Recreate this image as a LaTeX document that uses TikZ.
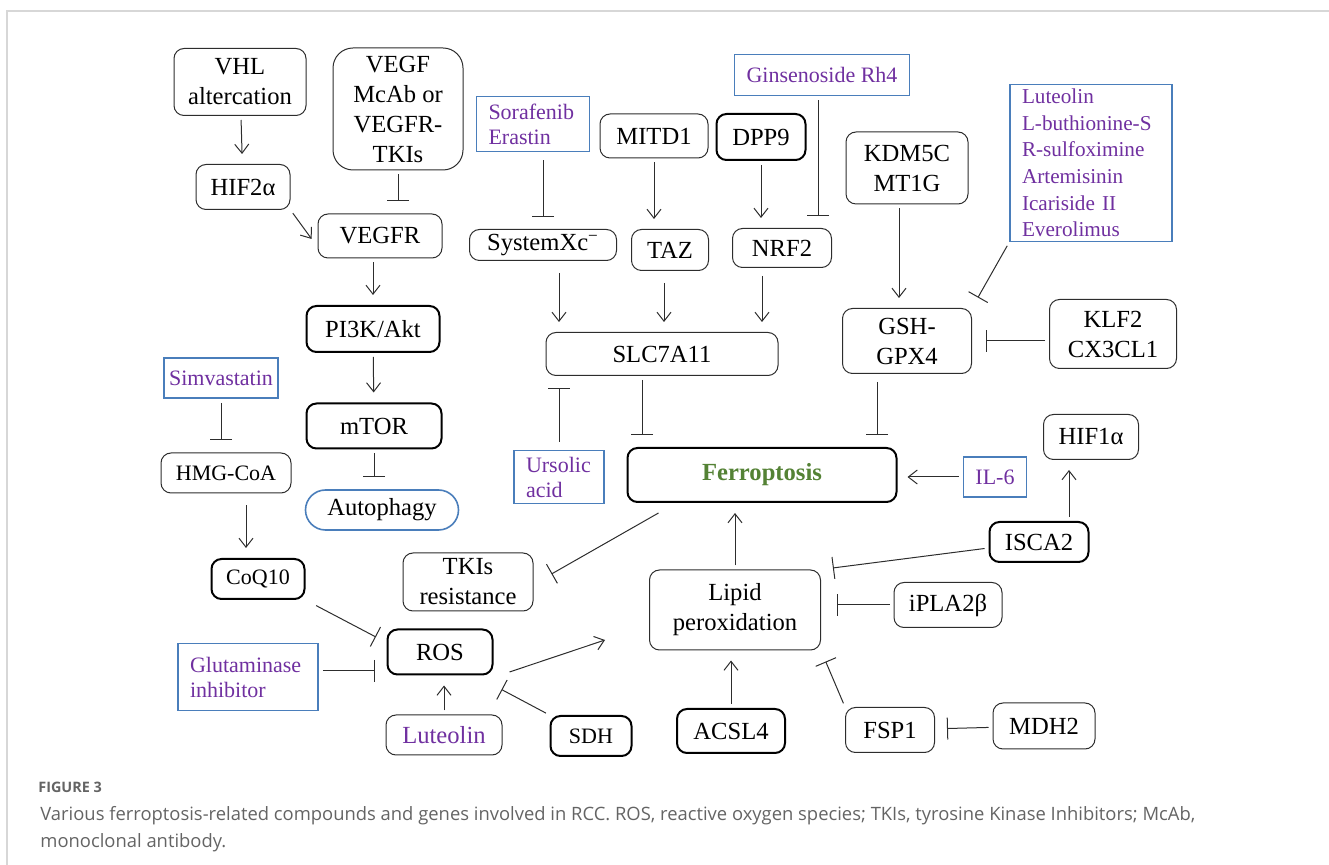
\documentclass[tikz,border=0pt]{standalone}
\usepackage{fontspec}
\setmainfont{Liberation Serif}
\newfontfamily\capfont{Open Sans}
\usepackage{xcolor}
\usepackage{tikz}
\usetikzlibrary{arrows.meta, positioning, calc}
\definecolor{mydark}{RGB}{45,45,45}
\definecolor{myblue}{RGB}{74,126,187}
\definecolor{mypurple}{RGB}{112,48,160}
\definecolor{mygreen}{RGB}{84,130,53}
\definecolor{mygray}{RGB}{100,100,100}
\definecolor{framegray}{RGB}{215,215,215}
\newcommand{\genefont}{\fontsize{12.3}{15}\selectfont}
\newcommand{\smallgenefont}{\fontsize{11}{13}\selectfont}
\newcommand{\drugfont}{\fontsize{11}{12.5}\selectfont}
\tikzset{
  gene/.style={rectangle, draw=mydark, fill=white, rounded corners=5pt,
    line width=0.5pt, inner sep=1pt, align=center, font=\genefont},
  boldgene/.style={gene, draw=black, line width=1pt},
  drug/.style={rectangle, draw=myblue, fill=white, line width=0.8pt,
    text=mypurple, inner sep=1pt, align=center, font=\drugfont},
  drugleft/.style={drug, align=left, inner xsep=6pt},
  sz/.style 2 args={minimum width=#1pt, minimum height=#2pt},
  act/.style={-{Straight Barb[length=4.5pt,width=7pt]}, line width=0.5pt,
    color=mydark, shorten <=2pt, shorten >=5pt},
  inh/.style={-{Bar[width=11pt]}, line width=0.5pt, color=mydark,
    shorten <=2pt, shorten >=6pt}
}

\begin{document}
\begin{tikzpicture}[x=0.5pt, y=-0.5pt]
  \useasboundingbox (0,0) rectangle (1329,865);
  % Page frame (top and left rules)
  \draw[framegray, line width=0.7pt] (7,865) -- (7,11) -- (1329,11);

  % VEGF axis (left column)
  \node[gene, sz={66}{33.5}] (vhl) at (240,82) {VHL\\altercation};
  \node[gene, rounded corners=10pt, sz={65}{61}] (vegf) at (398,109) {VEGF\\McAb or\\VEGFR-\\TKIs};
  \node[gene, sz={47}{22.5}] (hif2) at (243,187) {HIF2α};
  \node[gene, sz={62}{22}] (vegfr) at (380,236) {VEGFR};
  \node[boldgene, sz={66.5}{23}] (pi3k) at (373,329) {PI3K/Akt};
  \node[boldgene, sz={67.5}{22.5}] (mtor) at (374,426) {mTOR};
  \node[drug, text=black, font=\genefont, rounded corners=10pt, sz={76.5}{20}] (auto) at (382,510) {Autophagy};

  % Mevalonate branch
  \node[drug, sz={57}{20}] (simva) at (221,378) {Simvastatin};
  \node[gene, font=\smallgenefont, sz={65}{20}] (hmg) at (226,473) {HMG-CoA};
  \node[boldgene, font=\smallgenefont, sz={46.5}{20}] (coq) at (258,579) {CoQ10};

  % ROS cluster (bottom left)
  \node[boldgene, sz={52.5}{22.5}] (ros) at (440,652) {ROS};
  \node[drugleft, text width=58pt, sz={70}{33.5}] (glut) at (248,677) {Glutaminase\\inhibitor};
  \node[gene, text=mypurple, sz={58}{20}] (lut2) at (444,735) {Luteolin};
  \node[boldgene, font=\smallgenefont, sz={40.5}{20}] (sdh) at (591,736) {SDH};
  \node[gene, sz={65}{29}] (tkis) at (468,582) {TKIs\\resistance};

  % SLC7A11 axis (top middle)
  \node[drugleft, text width=44.5pt, sz={56.5}{27.5}] (sora) at (533,124) {Sorafenib\\Erastin};
  \node[gene, sz={54}{22}] (mitd1) at (654,136) {MITD1};
  \node[boldgene, sz={44.5}{23}] (dpp9) at (761,137) {DPP9};
  \node[drug, sz={87.5}{20.5}] (gins) at (822,75) {Ginsenoside Rh4};
  \node[gene, sz={73.5}{15.5}] (sxc) at (543,245) {SystemXc\textsuperscript{−}};
  \node[gene, sz={38.5}{20.5}] (taz) at (670,250) {TAZ};
  \node[gene, sz={49.5}{19.5}] (nrf2) at (782,248) {NRF2};
  \node[gene, sz={116}{21.5}] (slc) at (662,354) {SLC7A11};
  \node[drugleft, text width=33pt, sz={45}{26.5}] (urs) at (559,477) {Ursolic\\acid};

  % GPX4 axis (top right)
  \node[gene, sz={61}{36}] (kdm) at (907,168) {KDM5C\\MT1G};
  \node[drugleft, text width=69pt, inner ysep=0pt, font=\fontsize{10.6}{13.3}\selectfont, sz={81}{78.5}] (lut1) at (1091,163)
    {Luteolin\\L-buthionine-S\\R-sulfoximine\\Artemisinin\\Icariside II\\Everolimus};
  \node[gene, sz={64.5}{32.5}] (gsh) at (907,341) {GSH-\\GPX4};
  \node[gene, sz={63.5}{34.5}] (klf) at (1113,334) {KLF2\\CX3CL1};

  % Ferroptosis and lipid peroxidation
  \node[boldgene, sz={134.5}{27}, text=mygreen, font=\genefont\bfseries] (ferro) at (762,475) {Ferroptosis};
  \node[drug, sz={31.5}{20}] (il6) at (995,477) {IL-6};
  \node[gene, sz={47.5}{22.5}] (hif1) at (1091,437) {HIF1α};
  \node[boldgene, sz={49.5}{20}] (isca) at (1039,542) {ISCA2};
  \node[gene, sz={85.5}{40}] (lipid) at (735,610) {Lipid\\peroxidation};
  \node[gene, sz={54}{22.5}] (ipla) at (948,605) {iPLA2β};
  \node[boldgene, sz={54}{22}] (acsl) at (731,731) {ACSL4};
  \node[gene, sz={44.5}{22.5}] (fsp1) at (890,730) {FSP1};
  \node[gene, sz={51}{23}] (mdh2) at (1044,726) {MDH2};

  % Connectors: VEGF axis
  \draw[act] (vhl) -- (hif2);
  \draw[inh] (vegf) -- (vegf |- vegfr.north);
  \draw[act] (hif2.south east) -- (vegfr.190);
  \draw[act] (vegfr.south -| pi3k) -- (pi3k);
  \draw[act] (pi3k) -- (mtor);
  \draw[inh] (mtor) -- (mtor |- auto.north);
  \draw[inh] (simva) -- (simva |- hmg.north);
  \draw[act, shorten <=6pt] ([xshift=10pt]hmg.south) -- ([xshift=10pt]hmg.south |- coq.north);

  % Connectors: ROS cluster
  \draw[inh, shorten <=6pt] (coq.south east) -- (ros.170);
  \draw[inh] ([yshift=3pt]glut.east) -- ([yshift=3pt]glut.east -| ros.west);
  \draw[act] (lut2) -- (lut2 |- ros.south);
  \draw[inh, shorten >=0pt] (sdh.north west) -- ([xshift=4pt,yshift=-7pt]ros.south east);
  \draw[act, shorten >=0pt, shorten <=0pt] ([xshift=8pt,yshift=-10pt]ros.east) -- ([xshift=-22pt,yshift=-15pt]lipid.west);
  \draw[inh, shorten >=0pt, shorten <=0pt] ([xshift=16pt,yshift=-5pt]ferro.south west) -- ([xshift=9pt,yshift=4pt]tkis.east);

  % Connectors: SLC7A11 axis
  \draw[inh, shorten <=4pt] (sora.south -| sxc) -- (sxc);
  \draw[act] (mitd1) -- (mitd1 |- taz.north);
  \draw[act] (dpp9) -- (dpp9 |- nrf2.north);
  \draw[inh] ([xshift=-2pt]gins.south) -- ([xshift=-2pt]gins.south |- nrf2.north);
  \draw[act, shorten <=6pt] ([xshift=8pt]sxc.south) -- ([xshift=8pt]sxc.south |- slc.north);
  \draw[act, shorten <=6pt] ([xshift=-3pt]taz.south) -- ([xshift=-3pt]taz.south |- slc.north);
  \draw[act, shorten <=4pt] ([xshift=-10pt]nrf2.south) -- ([xshift=-10pt]nrf2.south |- slc.north);
  \draw[inh] ([xshift=-10pt]slc.south) -- ([xshift=-10pt]slc.south |- ferro.north);
  \draw[inh, shorten <=4pt] (urs) -- (urs |- slc.south);

  % Connectors: GPX4 axis
  \draw[act] ([xshift=-4pt]kdm.south) -- ([xshift=-4pt]kdm.south |- gsh.north);
  \draw[inh] (lut1.south west) -- (gsh.north east);
  \draw[inh, shorten >=7pt] (klf.west |- gsh) -- (gsh);
  \draw[inh, shorten <=4pt] ([xshift=-15pt]gsh.south) -- ([xshift=-15pt]gsh.south |- ferro.north);

  % Connectors: lipid peroxidation
  \draw[act] (il6) -- (il6 -| ferro.east);
  \draw[act] ([xshift=15pt]isca.north) -- ([xshift=15pt]isca.north |- hif1.south);
  \draw[inh] ([yshift=-3pt]isca.west) -- (lipid.north east);
  \draw[inh, shorten >=8pt] (ipla) -- (ipla -| lipid.east);
  \draw[inh] (fsp1.north west) -- (lipid.south east);
  \draw[inh] (mdh2) -- (fsp1);
  \draw[act] (acsl) -- (acsl |- lipid.south);
  \draw[act] (lipid) -- (lipid |- ferro.south);

  % Caption
  \node[anchor=base west, inner sep=0pt, text=mygray, font=\capfont\bfseries\fontsize{7.2}{8}\selectfont] (fignum) at (38,793) {FIGURE 3};
  \node[anchor=base west, inner sep=0pt, text=mygray, align=left, font=\capfont\fontsize{9.2}{13.5}\selectfont] (caption) at (40,848)
    {Various ferroptosis-related compounds and genes involved in RCC. ROS, reactive oxygen species; TKIs, tyrosine Kinase Inhibitors; McAb,\\monoclonal antibody.};
\end{tikzpicture}
\end{document}
